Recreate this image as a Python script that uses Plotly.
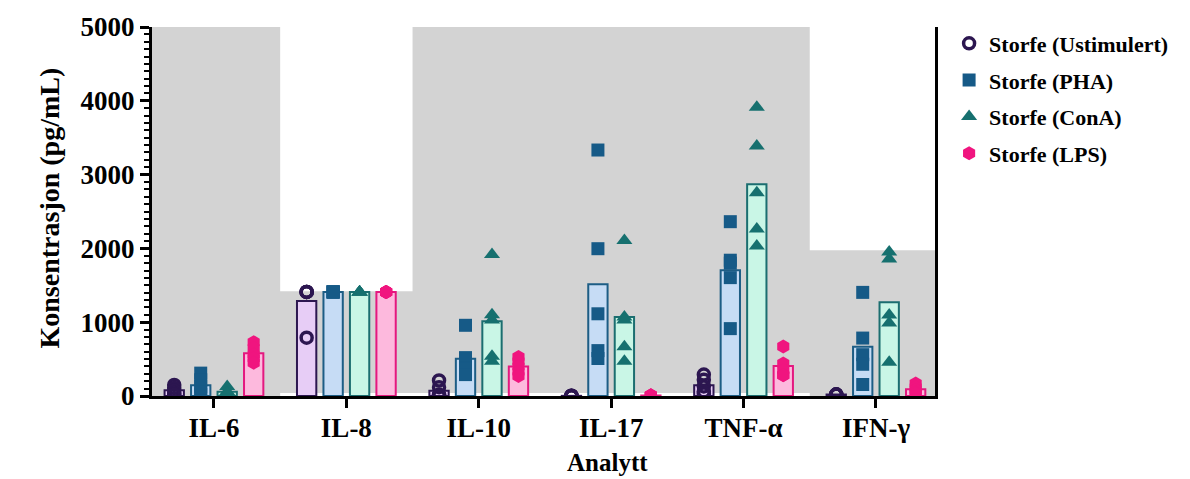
import numpy as np
import plotly.graph_objects as go

analytes = ["IL-6", "IL-8", "IL-10", "IL-17", "TNF-α", "IFN-γ"]
series_names = ["Storfe (Ustimulert)", "Storfe (PHA)", "Storfe (ConA)", "Storfe (LPS)"]

# replicate values (pg/mL), 5 animals per analyte
ustimulert = [
    [150, 110, 70, 40, 20],
    [1410, 1410, 1410, 1410, 790],
    [210, 120, 20, 10, 0],
    [5, 5, 0, 0, 0],
    [290, 220, 130, 60, 35],
    [20, 20, 20, 20, 20],
]
pha = [
    [310, 220, 130, 50, 20],
    [1410, 1410, 1410, 1410, 1410],
    [958, 520, 380, 370, 290],
    [3333, 1996, 1114, 615, 508],
    [2362, 1840, 1800, 1604, 913],
    [1404, 785, 560, 430, 156],
]
cona = [
    [130, 60, 40, 30, 30],
    [1410, 1410, 1410, 1410, 1410],
    [1916, 1100, 1030, 540, 470],
    [2108, 1070, 1030, 668, 472],
    [3913, 3386, 2754, 2263, 2032],
    [1952, 1858, 1096, 989, 459],
]
lps = [
    [730, 650, 560, 510, 450],
    [1410, 1410, 1410, 1410, 1410],
    [530, 470, 400, 330, 270],
    [10, 10, 5, 5, 5],
    [672, 441, 348, 283, 281],
    [170, 120, 80, 50, 30],
]

# detection limits shading
upper_limit_il8 = 1420
upper_limit_ifn = 1975
lower_limit = 40

y_ticks = [0, 1000, 2000, 3000, 4000, 5000]

data_all = [ustimulert, pha, cona, lps]
fills = ["#e7cdf6", "#c6dcf5", "#c9f6e6", "#fdb9dd"]
edges = ["#2c1650", "#1d5d85", "#1b6e70", "#e4187f"]
mcolors = ["#2c1650", "#165a87", "#16706f", "#f0157f"]
symbols = ["circle-open", "square", "triangle-up", "hexagon"]
msizes = [11, 13, 14, 14]

FONT = "Liberation Serif"

fig = go.Figure()

for i, (name, d) in enumerate(zip(series_names, data_all)):
    means = [float(np.mean(v)) for v in d]
    fig.add_trace(go.Bar(
        x=analytes, y=means, name=name, showlegend=False,
        offsetgroup=str(i), legendgroup=str(i),
        marker=dict(color=fills[i], line=dict(color=edges[i], width=2)),
    ))

for i, (name, d) in enumerate(zip(series_names, data_all)):
    xs, ys = [], []
    for a, vals in zip(analytes, d):
        for v in vals:
            xs.append(a)
            ys.append(v)
    mk = dict(symbol=symbols[i], size=msizes[i], color=mcolors[i])
    if symbols[i] == "circle-open":
        mk["line"] = dict(width=3.5, color=mcolors[i])
    fig.add_trace(go.Scatter(
        x=xs, y=ys, mode="markers", name=name, offsetgroup=str(i),
        legendgroup=str(i), marker=mk,
    ))

# white (out-of-range) regions
fig.add_shape(type="rect", xref="x", yref="y", x0=0.5, x1=1.5,
              y0=upper_limit_il8, y1=5000, fillcolor="white", line_width=0, layer="below")
fig.add_shape(type="rect", xref="x", yref="y", x0=4.5, x1=5.6,
              y0=upper_limit_ifn, y1=5000, fillcolor="white", line_width=0, layer="below")
fig.add_shape(type="rect", xref="x", yref="y", x0=0.5, x1=4.5,
              y0=0, y1=lower_limit, fillcolor="white", line_width=0, layer="below")

fig.update_layout(
    width=1190, height=479,
    margin=dict(l=152, r=255, t=22, b=83),
    paper_bgcolor="white", plot_bgcolor="#d3d3d3",
    barmode="group", bargap=0.2, bargroupgap=0.27,
    scattermode="group", scattergap=0.2,
    font=dict(family=FONT, color="black"),
    legend=dict(
        x=1.018, y=1.012, xanchor="left", yanchor="top",
        font=dict(family=FONT, size=22, weight="bold"),
        traceorder="grouped", tracegroupgap=5, bgcolor="rgba(0,0,0,0)",
        itemwidth=30,
    ),
    showlegend=True,
)

fig.update_xaxes(
    type="category", range=[-0.468, 5.446],
    showline=True, linecolor="black", linewidth=3,
    ticks="outside", ticklen=9, tickwidth=3, tickcolor="black",
    tickfont=dict(family=FONT, size=27, weight="bold"),
    ticklabelstandoff=-3,
    showgrid=False, zeroline=False,
)
fig.update_yaxes(
    range=[0, 5000], tickvals=y_ticks,
    showline=True, linecolor="black", linewidth=3, mirror=True,
    ticks="outside", ticklen=9, tickwidth=3, tickcolor="black",
    minor=dict(dtick=100, ticks="outside", ticklen=5, tickwidth=2, tickcolor="black"),
    tickfont=dict(family=FONT, size=27, weight="bold"),
    showgrid=False, zeroline=False,
)

fig.add_annotation(text="Konsentrasjon (pg/mL)", xref="paper", yref="paper",
                   x=-0.153, y=0.51, textangle=-90, showarrow=False,
                   font=dict(family=FONT, size=28, weight="bold"))
fig.add_annotation(text="Analytt", xref="x", yref="paper",
                   x=2.97, y=-0.18, yanchor="middle", showarrow=False,
                   font=dict(family=FONT, size=25, weight="bold"))

fig.write_html("out.html")
